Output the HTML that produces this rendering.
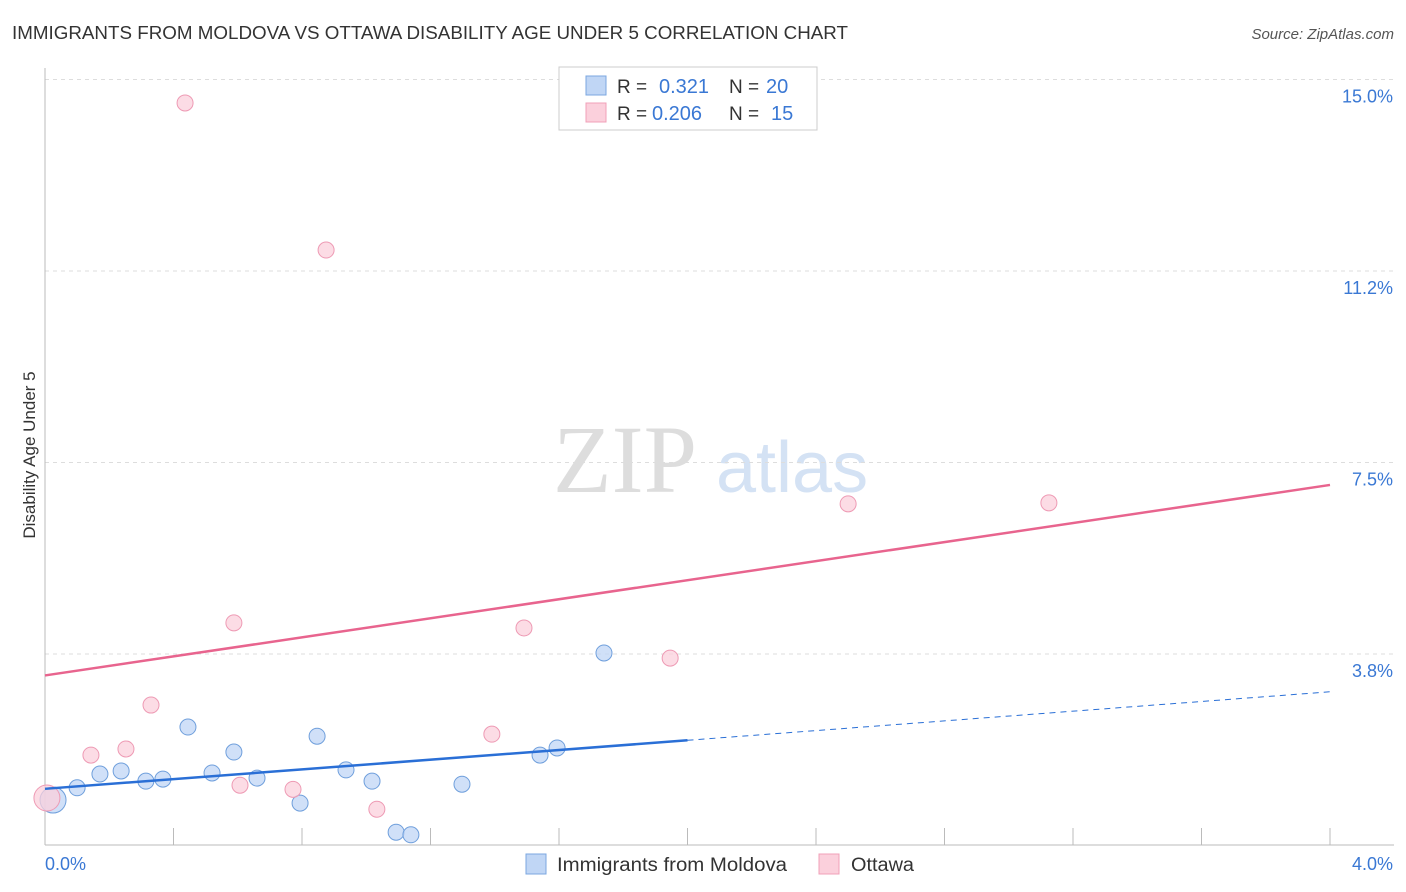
<!DOCTYPE html>
<html><head><meta charset="utf-8"><style>
body{margin:0;background:#fff;font-family:"Liberation Sans",sans-serif;}
#wrap{position:relative;width:1406px;height:892px;overflow:hidden;}
</style></head><body>
<div id="wrap">
<svg id="svg" width="1406" height="892" xmlns="http://www.w3.org/2000/svg">
<text x="12" y="39" font-size="18" fill="#333" textLength="836" lengthAdjust="spacingAndGlyphs">IMMIGRANTS FROM MOLDOVA VS OTTAWA DISABILITY AGE UNDER 5 CORRELATION CHART</text>
<text x="1394" y="39" font-size="15" fill="#555" font-style="italic" text-anchor="end">Source: ZipAtlas.com</text>
<text x="35" y="455" font-size="17" fill="#333" text-anchor="middle" transform="rotate(-90 35 455)">Disability Age Under 5</text>
<text x="553" y="492" font-size="96" fill="#ddd" font-family="Liberation Serif,serif">ZIP</text>
<text x="716" y="492" font-size="72" fill="#d4e2f4">atlas</text>
<g id="grid"></g><g id="axes"></g><g id="marks"></g>
<g>
<rect x="559" y="67" width="258" height="63" fill="#fff" stroke="#ccc"/>
<rect x="586" y="76" width="20" height="19" fill="#c0d6f5" stroke="#7ba7e0"/>
<text x="617" y="93" font-size="19" fill="#333">R = </text><text x="659" y="93" font-size="20" fill="#3a78d4">0.321</text>
<text x="729" y="93" font-size="19" fill="#333">N = </text><text x="766" y="93" font-size="20" fill="#3a78d4">20</text>
<rect x="586" y="103" width="20" height="19" fill="#fbd0dc" stroke="#f0a0b8"/>
<text x="617" y="120" font-size="19" fill="#333">R = </text><text x="652" y="120" font-size="20" fill="#3a78d4">0.206</text>
<text x="729" y="120" font-size="19" fill="#333">N = </text><text x="771" y="120" font-size="20" fill="#3a78d4">15</text>
</g>
<g>
<rect x="526" y="854" width="20" height="20" fill="#c0d6f5" stroke="#7ba7e0"/>
<text x="557" y="871" font-size="19" fill="#333" textLength="230" lengthAdjust="spacingAndGlyphs">Immigrants from Moldova</text>
<rect x="819" y="854" width="20" height="20" fill="#fbd0dc" stroke="#f0a0b8"/>
<text x="851" y="871" font-size="19" fill="#333" textLength="63" lengthAdjust="spacingAndGlyphs">Ottawa</text>
</g>
</svg>
</div>
<script>
const blueX=[0.025,0.100,0.171,0.237,0.314,0.367,0.445,0.520,0.588,0.660,0.794,0.847,0.937,1.018,1.093,1.139,1.298,1.541,1.594,1.740];
const blueY=[0.89,1.13,1.40,1.46,1.26,1.30,2.32,1.42,1.83,1.32,0.83,2.14,1.48,1.26,0.26,0.21,1.20,1.77,1.91,3.77];
const pinkX=[0.006,0.143,0.252,0.330,0.436,0.588,0.607,0.772,0.875,1.033,1.391,1.491,1.946,2.500,3.125];
const pinkY=[0.93,1.77,1.89,2.75,14.54,4.36,1.18,1.10,11.66,0.71,2.18,4.26,3.67,6.69,6.71];
const blueTrend=[1.11,3.01];
const pinkTrend=[3.33,7.06];
const yTicks=[3.75,7.5,11.25,15];
const yTickLabels=["3.8%","7.5%","11.2%","15.0%"];
const xTickLabels=["0.0%","4.0%"];
const NS="http://www.w3.org/2000/svg";
const X=v=>45+v/4*1285, Y=v=>845.5-v*51.07;
function mk(p,t,a){const e=document.createElementNS(NS,t);for(const k in a)e.setAttribute(k,a[k]);p.appendChild(e);return e;}
const grid=document.getElementById('grid'),axes=document.getElementById('axes'),marks=document.getElementById('marks');
yTicks.forEach((t,i)=>{
 const l=mk(grid,'line',{x1:45,x2:1394,y1:Y(t),y2:Y(t),stroke:'#ddd','stroke-dasharray':'4,4'});
 
 
 const tx=mk(axes,'text',{x:1393,y:Y(t)+23,'font-size':18,fill:'#3a78d4','text-anchor':'end'});
 tx.textContent=yTickLabels[i];
 
 
});
mk(axes,'line',{x1:45,x2:45,y1:68,y2:845,stroke:'#bbb'});
mk(axes,'line',{x1:45,x2:1394,y1:845,y2:845,stroke:'#bbb'});
for(let i=1;i<=10;i++){const x=X(i*0.4);mk(axes,'line',{x1:x,x2:x,y1:828,y2:845,stroke:'#bbb'});}
[[0,45,'start'],[4,1393,'end']].forEach((d,i)=>{
 const tx=mk(axes,'text',{x:d[1],y:870,'font-size':18,fill:'#3a78d4','text-anchor':d[2]});
 tx.textContent=xTickLabels[i];
 
 
});
function pts(xs,ys,fill,stroke,name){
 xs.forEach((x,i)=>{
  const c=mk(marks,'circle',{cx:X(x),cy:Y(ys[i]),r:i===0?13:8,fill:fill,'fill-opacity':0.75,stroke:stroke,'stroke-width':1});
  
  
 });
}
pts(blueX,blueY,'#c0d6f5','#6f9fdc','point-moldova');
pts(pinkX,pinkY,'#fbd0dc','#ee9ab4','point-ottawa');
const bt=v=>blueTrend[0]+(blueTrend[1]-blueTrend[0])*v/4, pt=v=>pinkTrend[0]+(pinkTrend[1]-pinkTrend[0])*v/4;
let l=mk(marks,'line',{x1:X(0),y1:Y(pt(0)),x2:X(4),y2:Y(pt(4)),stroke:'#e8648e','stroke-width':2.5});


l=mk(marks,'line',{x1:X(0),y1:Y(bt(0)),x2:X(2),y2:Y(bt(2)),stroke:'#2a6fd6','stroke-width':2.5});


l=mk(marks,'line',{x1:X(2),y1:Y(bt(2)),x2:X(4),y2:Y(bt(4)),stroke:'#2a6fd6','stroke-width':1,'stroke-dasharray':'6,5'});


</script>
</body></html>
